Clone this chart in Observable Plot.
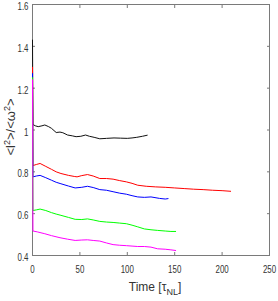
<!DOCTYPE html>
<html><head><meta charset="utf-8">
<script src="https://cdn.jsdelivr.net/npm/d3@7"></script>
<script src="https://cdn.jsdelivr.net/npm/@observablehq/plot@0.6"></script>
<style>body{margin:0;background:#fff}#chart svg{display:block}</style>
</head><body><div id="chart"></div>
<script>
// ---- data ----
const seriesNames = ["run A", "run B", "run C", "run D", "run E"];
const seriesColors = ["#111111", "#ff0000", "#0000ff", "#00ff00", "#ff00ff"];

const tBlack = [0, 0.5, 3, 6, 10, 13, 17, 20, 25, 29, 32, 37, 42, 46, 51, 56, 60, 65, 71, 78, 86, 93, 100, 105, 110, 116, 121];
const vBlack = [1.43, 1.026, 1.02, 1.016, 1.02, 1.024, 1.016, 1.008, 0.988, 0.99, 0.987, 0.976, 0.972, 0.968, 0.97, 0.976, 0.97, 0.965, 0.958, 0.96, 0.962, 0.961, 0.96, 0.962, 0.965, 0.97, 0.975];

const tRed = [0, 0.5, 4, 8, 14, 20, 25, 30, 38, 44, 47, 52, 58, 64, 71, 78, 85, 92, 99, 105, 111, 120, 130, 140, 150, 160, 170, 180, 190, 200, 209];
const vRed = [1.30, 0.83, 0.835, 0.84, 0.826, 0.812, 0.80, 0.792, 0.783, 0.778, 0.776, 0.782, 0.787, 0.78, 0.768, 0.768, 0.765, 0.758, 0.752, 0.745, 0.736, 0.731, 0.728, 0.726, 0.723, 0.72, 0.717, 0.715, 0.712, 0.71, 0.707];

const tBlue = [0, 0.5, 4, 8, 14, 20, 25, 30, 38, 45, 52, 58, 64, 71, 78, 85, 92, 99, 105, 111, 118, 125, 134, 140, 143];
const vBlue = [1.27, 0.776, 0.78, 0.783, 0.772, 0.76, 0.75, 0.743, 0.732, 0.723, 0.726, 0.731, 0.725, 0.715, 0.712, 0.705, 0.698, 0.693, 0.686, 0.68, 0.678, 0.68, 0.673, 0.670, 0.672];

const tGreen = [0, 0.5, 4, 8, 14, 20, 25, 30, 38, 45, 52, 58, 64, 71, 78, 85, 92, 99, 105, 111, 118, 125, 132, 140, 146, 151];
const vGreen = [1.25, 0.615, 0.618, 0.622, 0.615, 0.605, 0.598, 0.592, 0.582, 0.573, 0.572, 0.575, 0.57, 0.563, 0.56, 0.558, 0.555, 0.552, 0.545, 0.537, 0.527, 0.523, 0.52, 0.517, 0.515, 0.515];

const tMagenta = [0, 0.5, 5, 13, 20, 29, 37, 45, 52, 58, 64, 71, 78, 85, 92, 99, 105, 111, 118, 125, 132, 140, 146, 151];
const vMagenta = [1.24, 0.517, 0.513, 0.504, 0.495, 0.485, 0.478, 0.472, 0.474, 0.475, 0.472, 0.469, 0.46, 0.452, 0.449, 0.447, 0.445, 0.443, 0.443, 0.44, 0.432, 0.43, 0.427, 0.424];

const xTicks = [0, 50, 100, 150, 200, 250];
const xTickLabels = ["0", "50", "100", "150", "200", "250"];
const yTicks = [0.4, 0.6, 0.8, 1.0, 1.2, 1.4, 1.6];
const yTickLabels = ["0.4", "0.6", "0.8", "1", "1.2", "1.4", "1.6"];
const xLabel = "Time [τNL]";
const yLabel = "<l2>/<ω2>";

// ---- build table ----
const times = [tBlack, tRed, tBlue, tGreen, tMagenta];
const vals = [vBlack, vRed, vBlue, vGreen, vMagenta];
const rows = [];
seriesNames.forEach((s, k) => times[k].forEach((t, i) => rows.push({series: s, t, v: vals[k][i]})));

const axisColor = "#7a7a7a";
const plot = Plot.plot({
  width: 278, height: 301,
  marginLeft: 32, marginRight: 9, marginTop: 4, marginBottom: 46,
  style: {fontFamily: "'Liberation Sans', Arial, sans-serif", fontSize: "11px", color: "#333", background: "#fff"},
  x: {domain: [0, 250], label: null},
  y: {domain: [0.4, 1.6], label: null},
  color: {type: "ordinal", domain: seriesNames, range: seriesColors},
  marks: [
    Plot.frame({stroke: axisColor}),
    Plot.axisX(xTicks, {anchor: "bottom", tickSize: 3, dy: -3, fill: "none", stroke: axisColor, label: null}),
    Plot.axisX(xTicks, {anchor: "top", tickSize: 3, dy: 3, fill: "none", stroke: axisColor, label: null}),
    Plot.axisY(yTicks, {anchor: "left", tickSize: 3, dx: 3, fill: "none", stroke: axisColor, label: null}),
    Plot.axisY(yTicks, {anchor: "right", tickSize: 3, dx: -3, fill: "none", stroke: axisColor, label: null}),
    Plot.axisX(xTicks, {anchor: "bottom", tickSize: 0, tickPadding: 10, label: null,
      tickFormat: d => xTickLabels[xTicks.indexOf(d)]}),
    Plot.axisY(yTicks, {anchor: "left", tickSize: 0, tickPadding: 4, dy: 2, label: null,
      tickFormat: d => yTickLabels[yTicks.indexOf(d)]}),
    Plot.line(rows, {x: "t", y: "v", z: "series", stroke: "series", strokeWidth: 1}),
    Plot.text([xLabel], {frameAnchor: "bottom", textAnchor: "middle", lineAnchor: "middle", dy: 32, dx: 4, fontSize: 12, fill: "#333", className: "xlab"}),
    Plot.text([yLabel], {frameAnchor: "left", textAnchor: "middle", lineAnchor: "middle", rotate: -90, dx: -22, dy: -3, fontSize: 13, fill: "#333", className: "ylab"})
  ]
});
document.getElementById("chart").appendChild(plot);

// condense tick labels horizontally (narrow font look)
const svg = d3.select(plot);
svg.selectAll('g[aria-label="x-axis tick label"] text, g[aria-label="y-axis tick label"] text').each(function () {
  const el = d3.select(this);
  let tr = el.attr("transform");
  if (!tr) {
    const x = +el.attr("x") || 0, y = +el.attr("y") || 0;
    el.attr("x", null).attr("y", null);
    tr = `translate(${x},${y})`;
  }
  el.attr("transform", tr + " scale(0.72,1)");
});

// x label subscript
svg.selectAll("g.xlab text").each(function () {
  const el = d3.select(this);
  el.text(null);
  el.append("tspan").text("Time [τ");
  el.append("tspan").attr("dy", 4).attr("font-size", 9).text("NL");
  el.append("tspan").attr("dy", -4).text("]");
});
// y label superscripts
svg.selectAll("g.ylab text").each(function () {
  const el = d3.select(this);
  el.text(null);
  el.append("tspan").text("<l");
  el.append("tspan").attr("dy", -5).attr("font-size", 9).text("2");
  el.append("tspan").attr("dy", 5).text(">/<ω");
  el.append("tspan").attr("dy", -5).attr("font-size", 9).text("2");
  el.append("tspan").attr("dy", 5).text(">");
});
</script></body></html>
